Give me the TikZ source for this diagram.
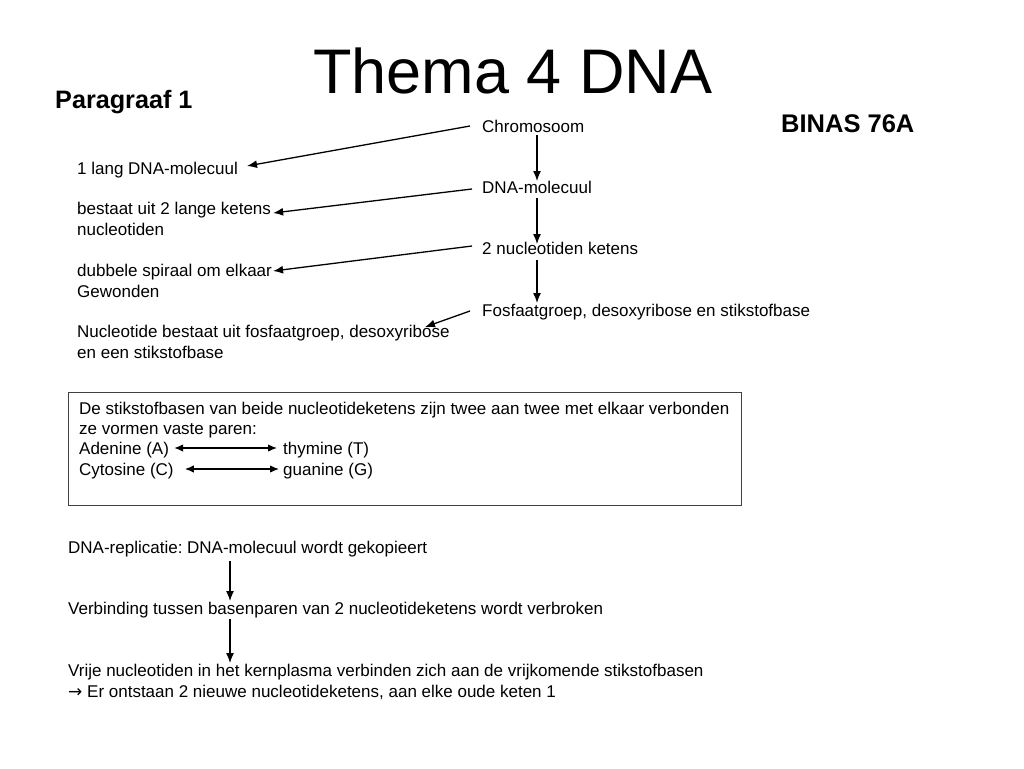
\documentclass[tikz,border=0pt]{standalone}
\usepackage{fontspec}
\setmainfont{Liberation Sans}
\newfontfamily\arrowfont{DejaVu Sans}
\usetikzlibrary{arrows.meta}
\frenchspacing
\begin{document}
\begin{tikzpicture}[x=1pt,y=-1pt,
  txt/.style={anchor=base west, inner sep=0pt, font=\fontsize{17}{20}\selectfont},
  arr/.style={-{Latex[length=10pt,width=8pt]}, line width=1.3pt},
  darr/.style={{Latex[length=9pt,width=7.5pt]}-{Latex[length=9pt,width=7.5pt]}, line width=1.3pt}]
\useasboundingbox[fill=white] (0,0) rectangle (1024,768);
% titles
\node[anchor=base, inner sep=0pt, font=\fontsize{63}{70}\selectfont] (title) at (513,93) {Thema 4 DNA};
\node[anchor=base west, inner sep=0pt, font=\fontsize{25.2}{29}\selectfont\bfseries] (par) at (55,108) {Paragraaf 1};
\node[anchor=base west, inner sep=0pt, font=\fontsize{25.5}{29}\selectfont\bfseries] (binas) at (781,132) {BINAS 76A};
% right column
\node[txt] (chrom) at (482,132) {Chromosoom};
\node[txt] (dnamol) at (482,193) {DNA-molecuul};
\node[txt] (nucket) at (482,254) {2 nucleotiden ketens};
\node[txt] (fosf) at (482,316) {Fosfaatgroep, desoxyribose en stikstofbase};
% left column
\node[txt] (lang) at (77,174) {1 lang DNA-molecuul};
\node[txt] (bestaat) at (77,214) {bestaat uit 2 lange ketens};
\node[txt] (nucleotiden) at (77,235) {nucleotiden};
\node[txt] (dubbele) at (77,276) {dubbele spiraal om elkaar};
\node[txt] (gewonden) at (77,297) {Gewonden};
\node[txt] (nucleotide) at (77,337) {Nucleotide bestaat uit fosfaatgroep, desoxyribose};
\node[txt] (eeneen) at (77,358) {en een stikstofbase};
% arrows top
\draw[arr] ([shift={(-12,-6)}]chrom.base west) -- ([shift={(9,-8)}]lang.base east);
\draw[arr] ([shift={(-10,-4)}]dnamol.base west) -- ([shift={(2,-1)}]bestaat.base east);
\draw[arr] ([shift={(-10,-8)}]nucket.base west) -- ([shift={(1,-5)}]dubbele.base east);
\draw[arr] ([shift={(-12,-5)}]fosf.base west) -- ([shift={(348,-10)}]nucleotide.base west);
\draw[arr] ([shift={(55,3)}]chrom.base west) -- ([shift={(55,-12)}]dnamol.base west);
\draw[arr] ([shift={(55,5)}]dnamol.base west) -- ([shift={(55,-10)}]nucket.base west);
\draw[arr] ([shift={(55,6)}]nucket.base west) -- ([shift={(55,-13)}]fosf.base west);
% box
\node[draw=black!75, line width=1pt, anchor=north west, minimum width=673pt, minimum height=113pt, inner sep=0pt] (box) at (68,392) {};
\node[txt] (b1) at (79,414) {De stikstofbasen van beide nucleotideketens zijn twee aan twee met elkaar verbonden};
\node[txt] (b2) at (79,434) {ze vormen vaste paren:};
\node[txt] (aden) at (79,454) {Adenine (A)};
\node[txt] (thym) at (283,454) {thymine (T)};
\node[txt] (cyto) at (79,475) {Cytosine (C)};
\node[txt] (guan) at (283,475) {guanine (G)};
\draw[darr] ([shift={(5,-6)}]aden.base east) -- ([shift={(-6,-6)}]thym.base west);
\draw[darr] ([shift={(11,-6)}]cyto.base east) -- ([shift={(-4,-6)}]guan.base west);
% bottom
\node[txt] (rep) at (68,553) {DNA-replicatie: DNA-molecuul wordt gekopieert};
\node[txt] (verb) at (68,614) {Verbinding tussen basenparen van 2 nucleotideketens wordt verbroken};
\node[txt] (vrije) at (68,676) {Vrije nucleotiden in het kernplasma verbinden zich aan de vrijkomende stikstofbasen};
\node[txt] (er) at (68,697) {{\arrowfont →} Er ontstaan 2 nieuwe nucleotideketens, aan elke oude keten 1};
\draw[arr] ([shift={(162,8)}]rep.base west) -- ([shift={(162,-13)}]verb.base west);
\draw[arr] ([shift={(162,5)}]verb.base west) -- ([shift={(162,-13)}]vrije.base west);
\end{tikzpicture}
\end{document}
